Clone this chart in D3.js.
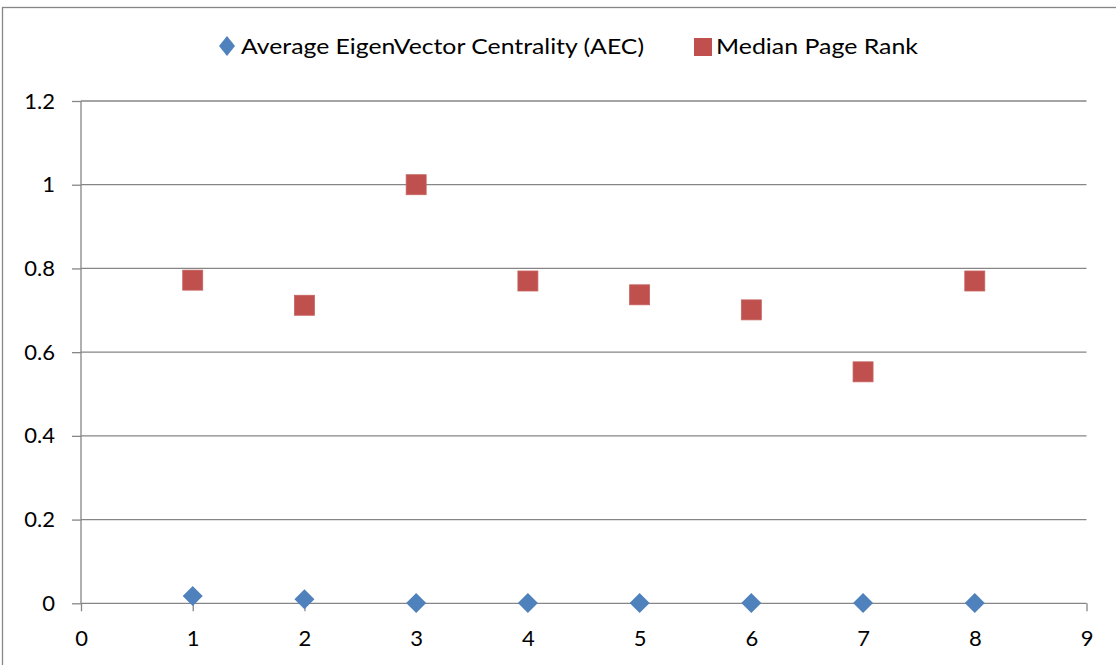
<!DOCTYPE html>
<html><head><meta charset="utf-8">
<script src="https://cdn.jsdelivr.net/npm/d3@7"></script>
<style>body{margin:0;background:#fff}svg{display:block}text{font-family:Lato,"Open Sans",sans-serif;fill:#000}</style>
</head><body>
<svg id="c" width="1116" height="665"></svg>
<script>
const xs = [1,2,3,4,5,6,7,8];
const aec = [0.0175,0.0095,0.001,0.001,0.001,0.001,0.001,0.001];
const pageRank = [0.772,0.712,1.0,0.770,0.737,0.701,0.553,0.770];
const xTicks = [0,1,2,3,4,5,6,7,8,9];
const yTicks = [0,0.2,0.4,0.6,0.8,1,1.2];
const seriesNames = ["Average EigenVector Centrality (AEC)","Median Page Rank"];

const svg = d3.select("#c");
const x = d3.scaleLinear().domain([0,9]).range([81,1086.5]);
const y = d3.scaleLinear().domain([0,1.2]).range([603.3,101]);
const grid = "#868686";
const fs = "22px";

// outer frame
svg.append("rect").attr("x",2.5).attr("y",7.5).attr("width",1200).attr("height",800)
  .attr("fill","none").attr("stroke",grid).attr("stroke-width",1.3);

// gridlines
svg.append("g").selectAll("line").data(yTicks.filter(d=>d>0)).join("line")
  .attr("x1",x(0)).attr("x2",x(9)).attr("y1",d=>y(d)).attr("y2",d=>y(d))
  .attr("stroke",grid).attr("stroke-width",1.3);

// y axis
const ya = svg.append("g").attr("transform",`translate(${x(0)},0)`)
  .call(d3.axisLeft(y).tickValues(yTicks).tickFormat(d=>String(d)).tickSize(9).tickPadding(17));
ya.select(".domain").attr("stroke",grid).attr("stroke-width",1.3).attr("d",`M0,${y(1.2)}V${y(0)}`);
ya.selectAll(".tick line").attr("stroke",grid).attr("stroke-width",1.3);
ya.selectAll(".tick text").style("font-size",fs).attr("fill","#000");

// x axis
const xa = svg.append("g").attr("transform",`translate(0,${y(0)})`)
  .call(d3.axisBottom(x).tickValues(xTicks).tickFormat(d=>String(d)).tickSize(8).tickPadding(19));
xa.select(".domain").attr("stroke",grid).attr("stroke-width",1.3).attr("d",`M${x(0)},0H${x(9)}`);
xa.selectAll(".tick line").attr("stroke",grid).attr("stroke-width",1.3);
xa.selectAll(".tick text").style("font-size",fs).attr("fill","#000");

// squares
const s = 20;
svg.append("g").selectAll("rect").data(xs.map((d,i)=>[d,pageRank[i]])).join("rect")
  .attr("x",d=>x(d[0])-s/2).attr("y",d=>y(d[1])-s/2).attr("width",s).attr("height",s)
  .attr("fill","#C0504D").attr("stroke","#C46461").attr("stroke-width",0.8);

// diamonds
const dm = 10;
svg.append("g").selectAll("path").data(xs.map((d,i)=>[d,aec[i]])).join("path")
  .attr("d",d=>{const cx=x(d[0]),cy=y(d[1]);return `M${cx},${cy-dm}L${cx+dm},${cy}L${cx},${cy+dm}L${cx-dm},${cy}Z`;})
  .attr("fill","#4F81BD");

// legend
const lg = svg.append("g");
lg.append("path").attr("d","M227,36L235,46L227,56L219,46Z").attr("fill","#4F81BD");
lg.append("text").attr("x",241).attr("y",54).style("font-size",fs)
  .attr("textLength",403).attr("lengthAdjust","spacingAndGlyphs").text(seriesNames[0]);
lg.append("rect").attr("x",694).attr("y",38).attr("width",18).attr("height",18).attr("fill","#C0504D");
lg.append("text").attr("x",716).attr("y",54).style("font-size",fs)
  .attr("textLength",202).attr("lengthAdjust","spacingAndGlyphs").text(seriesNames[1]);
</script>
</body></html>
